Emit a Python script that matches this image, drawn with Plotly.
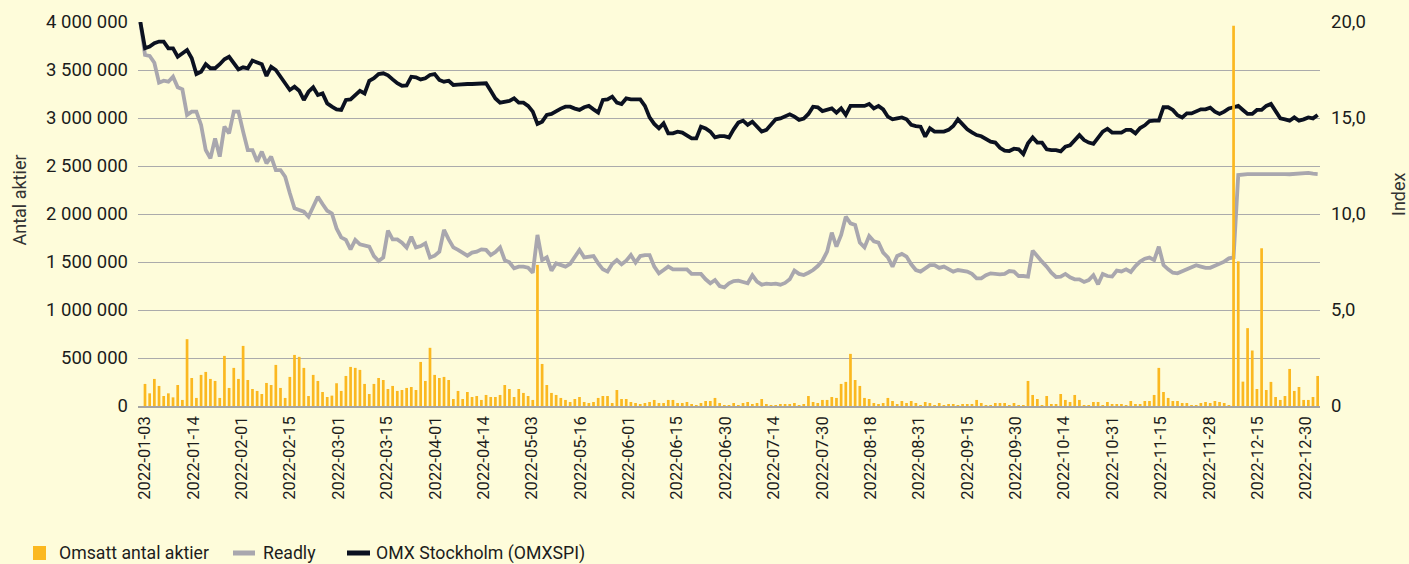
import numpy as np
import plotly.graph_objects as go

# ---------------- data ----------------
tick_labels = ["2022-01-03", "2022-01-14", "2022-02-01", "2022-02-15", "2022-03-01",
               "2022-03-15", "2022-04-01", "2022-04-14", "2022-05-03", "2022-05-16",
               "2022-06-01", "2022-06-15", "2022-06-30", "2022-07-14", "2022-07-30",
               "2022-08-18", "2022-08-31", "2022-09-15", "2022-09-30", "2022-10-14",
               "2022-10-31", "2022-11-15", "2022-11-28", "2022-12-15", "2022-12-30"]

# Omsatt antal aktier, thousands of shares per trading day
volume_k = [
    230, 132, 282, 209, 104, 132, 90, 219, 63, 696, 292, 84, 324, 355, 282, 261, 84, 522, 188, 397,
    282, 626, 271, 177, 157, 125, 240, 219, 428, 188, 84, 303, 532, 512, 397, 104, 324, 261, 146, 94,
    108, 237, 157, 313, 407, 397, 376, 230, 125, 230, 292, 271, 177, 209, 157, 167, 188, 198, 167, 459,
    261, 606, 324, 292, 303, 271, 73, 157, 73, 146, 94, 104, 63, 115, 94, 94, 115, 219, 177, 94,
    177, 136, 104, 63, 1470, 438, 219, 136, 115, 84, 63, 42, 73, 94, 42, 31, 42, 84, 104, 104,
    31, 167, 73, 73, 42, 31, 21, 31, 42, 63, 31, 31, 63, 63, 31, 31, 42, 21, 10, 31,
    52, 52, 84, 31, 10, 10, 31, 10, 31, 42, 21, 31, 73, 21, 10, 5, 21, 21, 21, 31,
    10, 21, 104, 42, 31, 63, 63, 94, 84, 230, 251, 543, 271, 209, 84, 73, 31, 21, 31, 84,
    52, 21, 52, 31, 52, 31, 10, 42, 31, 10, 31, 10, 21, 21, 3, 21, 21, 21, 63, 31,
    10, 3, 31, 31, 31, 10, 31, 3, 3, 261, 115, 73, 10, 104, 21, 21, 125, 63, 42, 115,
    63, 10, 10, 42, 42, 10, 42, 21, 21, 21, 10, 52, 21, 21, 52, 52, 115, 397, 146, 84,
    52, 52, 31, 31, 10, 3, 31, 42, 31, 52, 42, 31, 10, 3960, 1507, 254, 811, 578, 177, 1643,
    167, 251, 94, 63, 104, 386, 157, 198, 63, 63, 94, 313]

# Readly, index (start value 20)
readly = [
    20.0, 18.28, 18.23, 17.88, 16.84, 16.94, 16.89, 17.15, 16.60, 16.49, 15.16, 15.33, 15.33, 14.64,
    13.33, 12.90, 13.94, 12.99, 14.55, 14.20, 15.33, 15.33, 14.29, 13.33, 13.33, 12.73, 13.25, 12.64,
    12.99, 12.29, 12.29, 11.94, 11.08, 10.30, 10.21, 10.12, 9.86, 10.38, 10.90, 10.52, 10.17, 10.03,
    9.25, 8.78, 8.65, 8.16, 8.65, 8.42, 8.37, 8.30, 7.81, 7.55, 7.74, 9.13, 8.68, 8.68, 8.51, 8.25,
    8.82, 8.26, 8.33, 8.47, 7.73, 7.83, 8.04, 9.17, 8.68, 8.26, 8.13, 7.99, 7.83, 7.99, 8.04, 8.16,
    8.13, 7.86, 8.02, 8.26, 7.60, 7.48, 7.17, 7.26,
    7.26, 7.20, 6.94, 8.91, 7.60, 7.74, 7.05, 7.43, 7.35, 7.26, 7.40, 7.78, 8.13, 7.74, 7.78, 7.81,
    7.43, 7.12, 7.00, 7.40, 7.60, 7.38, 7.57, 7.86, 7.47, 7.81, 7.86, 7.86, 7.26, 6.91, 7.08, 7.26,
    7.12, 7.12, 7.12, 7.12, 6.88, 6.88, 6.88, 6.60, 6.39,
    6.56, 6.25, 6.18, 6.39, 6.51, 6.53, 6.46, 6.39, 6.81, 6.48, 6.32, 6.37, 6.35, 6.37, 6.32, 6.41,
    6.60, 7.05, 6.88, 6.82, 6.94, 7.08, 7.29, 7.57, 8.04, 9.03, 8.30, 8.91, 9.86, 9.51, 9.43, 8.51,
    8.26, 8.85, 8.58, 8.51, 7.99, 7.74, 7.26, 7.81, 7.92,
    7.78, 7.38, 7.08, 7.00, 7.20, 7.34, 7.34, 7.19, 7.26, 7.14, 7.00, 7.08, 7.05, 7.00, 6.88, 6.65,
    6.65, 6.81, 6.91, 6.88, 6.86, 6.88, 7.03, 7.00, 6.77, 6.77, 6.74, 8.09, 7.78, 7.52, 7.26, 6.94,
    6.72, 6.74, 6.88, 6.70, 6.60, 6.60, 6.46, 6.56,
    6.81, 6.34, 6.88, 6.77, 6.74, 7.05, 7.01, 7.12, 6.98, 7.29, 7.52, 7.67, 7.73, 7.60, 8.30, 7.34,
    7.12, 6.94, 6.91, 7.01, 7.14, 7.26, 7.33, 7.26, 7.19, 7.20, 7.31, 7.43, 7.52, 7.69, 7.74, 12.03,
    12.08, 12.08, 12.08, 12.08, 12.08, 12.08, 12.10, 12.10, 12.12, 12.08, 12.07, 12.08, 12.10, 12.12,
    12.14, 12.10, 12.08]

# OMX Stockholm (OMXSPI), index (start value 20)
omx = [
    20.0, 18.63, 18.72, 18.89, 18.98, 18.98, 18.63, 18.63, 18.19, 18.37, 18.54, 18.11, 17.29, 17.41,
    17.80, 17.59, 17.59, 17.80, 18.06, 18.19, 17.85, 17.53, 17.64, 17.59, 17.99, 17.88, 17.80, 17.19,
    17.67, 17.50, 17.15, 16.81, 16.46, 16.63, 16.42, 15.94, 16.37, 16.60, 16.20, 16.28, 15.76,
    15.59, 15.45, 15.42, 15.94, 15.97, 16.20, 16.42, 16.28, 16.94, 17.07, 17.29, 17.33, 17.22, 17.01,
    16.81, 16.68, 16.70, 17.15, 17.12, 17.01, 17.07, 17.24, 17.29, 16.98, 16.89, 16.94, 16.72, 16.74,
    16.77, 16.77, 16.77, 16.77, 16.81, 16.81, 16.42, 16.02, 15.80, 15.85, 15.89, 16.02, 15.80,
    15.80, 15.63, 15.33, 14.69, 14.81, 15.16, 15.21, 15.36, 15.49, 15.59, 15.59, 15.49, 15.42, 15.56,
    15.63, 15.45, 15.28, 15.94, 15.97, 16.11, 15.80, 15.73, 16.02, 15.97, 15.97, 15.97, 15.63, 15.03,
    14.69, 14.46, 14.72, 14.20, 14.20, 14.29, 14.24, 14.11, 13.94, 13.94, 14.55, 14.46, 14.29,
    13.99, 14.06, 14.06, 13.99, 14.41, 14.76, 14.86, 14.64, 14.81, 14.55, 14.29, 14.38, 14.64, 14.93,
    14.98, 15.10, 15.19, 15.07, 14.90, 14.97, 15.21, 15.59, 15.56, 15.36, 15.42, 15.50, 15.28, 15.50,
    15.16, 15.63, 15.63, 15.63, 15.63, 15.73, 15.50, 15.63, 15.45, 15.07, 14.93, 14.98, 15.03,
    14.93, 14.65, 14.58, 14.55, 14.03, 14.46, 14.29, 14.29, 14.29, 14.38, 14.58, 14.93, 14.64, 14.41,
    14.25, 14.11, 14.05, 13.89, 13.77, 13.72, 13.45, 13.30, 13.28, 13.40, 13.37, 13.12, 13.68, 13.99,
    13.72, 13.72, 13.37, 13.33, 13.33, 13.26, 13.51, 13.58, 13.82, 14.11, 13.85, 13.72,
    13.65, 13.94, 14.29, 14.44, 14.24, 14.24, 14.24, 14.38, 14.38, 14.20, 14.48, 14.62, 14.84, 14.86,
    14.86, 15.56, 15.56, 15.42, 15.14, 15.03, 15.24, 15.24, 15.36, 15.45, 15.45, 15.54, 15.33, 15.21,
    15.33, 15.50, 15.56, 15.63, 15.42, 15.21, 15.21, 15.42, 15.42, 15.63, 15.73, 15.33, 14.98, 14.93,
    14.86, 15.03, 14.86, 14.93, 15.03, 14.98, 15.16]

# legend entries: (name, kind, colour)
legend_items = [("Omsatt antal aktier", "bar", "#FBB820"),
                ("Readly", "line", "#A9A7AE"),
                ("OMX Stockholm (OMXSPI)", "line", "#0B1120")]

# ---------------- figure ----------------
BG = "#FEFCDA"
TXT = "#1c1c1c"
W, H = 1409, 564
ML, MR, MT, MB = 138, 89, 22, 158
PW, PH = W - ML - MR, H - MT - MB


def px_x(p):   # pixel -> paper x
    return (p - ML) / PW


def px_y(p):   # pixel -> paper y
    return (H - MB - p) / PH


line_x = list(range(len(omx)))                    # index series include a base day
bar_x = list(range(1, len(volume_k) + 1))         # volume starts on the first trading day
volume = [v * 1000 for v in volume_k]
tick_pos = np.linspace(1, 249.5, len(tick_labels))

fig = go.Figure()
fig.add_trace(go.Scatter(x=line_x, y=readly, name=legend_items[1][0], mode="lines",
                         line=dict(color=legend_items[1][2], width=3.8), yaxis="y"))
fig.add_trace(go.Scatter(x=line_x, y=omx, name=legend_items[2][0], mode="lines",
                         line=dict(color=legend_items[2][2], width=3.8), yaxis="y"))
fig.add_trace(go.Bar(x=bar_x, y=volume, name=legend_items[0][0],
                     marker=dict(color=legend_items[0][2], line=dict(width=0)), yaxis="y2"))

idx_ticks = [0, 2.5, 5, 7.5, 10, 12.5, 15, 17.5, 20]
idx_text = ["0", "", "5,0", "", "10,0", "", "15,0", "", "20,0"]

fig.update_layout(
    width=W, height=H,
    paper_bgcolor=BG, plot_bgcolor=BG,
    margin=dict(l=ML, r=MR, t=MT, b=MB, autoexpand=False),
    separators=", ",
    bargap=0.42,
    font=dict(family="Roboto, Arial, sans-serif", size=15, color=TXT),
    showlegend=False,
    xaxis=dict(range=[-0.5, 252.5], tickmode="array", tickvals=tick_pos, ticktext=tick_labels,
               tickangle=-90, showgrid=False, zeroline=False, showline=True, automargin=False,
               linecolor="#A4A4A4", linewidth=1.5, ticks="", ticklabelstandoff=2,
               tickfont=dict(size=16.5, color=TXT)),
    # index axis (base, right side) carries the gridlines
    yaxis=dict(range=[0, 20], tickmode="array", tickvals=idx_ticks, ticktext=idx_text,
               side="right", showgrid=True, gridcolor="#ABABAB", gridwidth=1, zeroline=False,
               ticks="", ticklabelstandoff=10, automargin=False,
               tickfont=dict(size=18.5, color=TXT)),
    # share volume axis (left side), drawn on top
    yaxis2=dict(overlaying="y", side="left", range=[0, 4000000], dtick=500000, tickformat=",d",
                showgrid=False, zeroline=False, ticks="", ticklabelstandoff=9, automargin=False,
                tickfont=dict(size=18.5, color=TXT)),
)

annotations = [
    dict(text="Antal aktier", xref="paper", yref="paper", x=px_x(18.5), y=px_y(200),
         xanchor="center", yanchor="middle", borderpad=0,
         textangle=-90, showarrow=False, font=dict(size=18, color="#333333")),
    dict(text="Index", xref="paper", yref="paper", x=px_x(1398), y=px_y(194),
         xanchor="center", yanchor="middle", borderpad=0,
         textangle=-90, showarrow=False, font=dict(size=18, color="#333333")),
]
shapes = []

# manual legend at the bottom
leg_y = 553
sym_left = [33, 233, 347]
sym_right = [46, 255, 370]
text_left = [57, 261, 374]
for (name, kind, col), s0, s1, t0 in zip(legend_items, sym_left, sym_right, text_left):
    if kind == "bar":
        shapes.append(dict(type="rect", xref="paper", yref="paper",
                           x0=px_x(s0), x1=px_x(s1), y0=px_y(leg_y - 7), y1=px_y(leg_y + 7),
                           fillcolor=col, line=dict(width=0), layer="above"))
    else:
        shapes.append(dict(type="line", xref="paper", yref="paper",
                           x0=px_x(s0), x1=px_x(s1), y0=px_y(leg_y), y1=px_y(leg_y),
                           line=dict(color=col, width=5), layer="above"))
    annotations.append(dict(text=name, xref="paper", yref="paper", x=px_x(t0), y=px_y(leg_y),
                            xanchor="left", yanchor="middle", showarrow=False,
                            font=dict(size=17.7, color=TXT)))

fig.update_layout(annotations=annotations, shapes=shapes)

# remove the page's default body margin so the figure sits at the window's corner
fig.write_html("out.html", config={"displayModeBar": False},
               post_script="document.body.style.margin='0px';document.body.style.padding='0px';"
                           "document.documentElement.style.overflow='hidden';")
